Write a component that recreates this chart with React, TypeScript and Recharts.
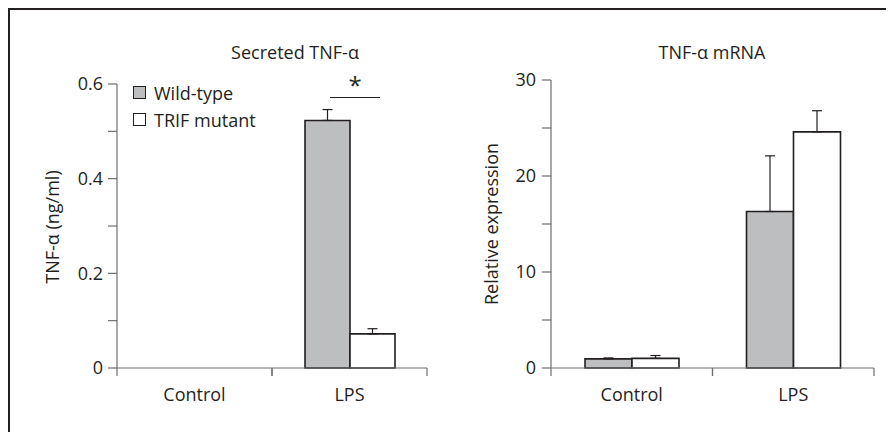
import React from "react";
import { Bar, BarChart, ErrorBar, Legend, XAxis, YAxis } from "recharts";

const categories = ["Control", "LPS"];
const seriesNames = ["Wild-type", "TRIF mutant"];

const secretedWT = [0, 0.523];
const secretedWTErr = [0, 0.023];
const secretedTRIF = [0, 0.072];
const secretedTRIFErr = [0, 0.011];
const secretedTicks = [0, 0.1, 0.2, 0.3, 0.4, 0.5, 0.6];
const secretedTickLabels = ["0", "", "0.2", "", "0.4", "", "0.6"];

const mrnaWT = [0.95, 16.3];
const mrnaWTErr = [0.1, 5.8];
const mrnaTRIF = [1.0, 24.6];
const mrnaTRIFErr = [0.3, 2.2];
const mrnaTicks = [0, 5, 10, 15, 20, 25, 30];
const mrnaTickLabels = ["0", "", "10", "", "20", "", "30"];

const secretedData = categories.map((c, i) => ({
  name: c,
  wt: secretedWT[i],
  wtErr: [0, secretedWTErr[i]],
  trif: secretedTRIF[i],
  trifErr: [0, secretedTRIFErr[i]],
}));

const mrnaData = categories.map((c, i) => ({
  name: c,
  wt: mrnaWT[i],
  wtErr: [0, mrnaWTErr[i]],
  trif: mrnaTRIF[i],
  trifErr: [0, mrnaTRIFErr[i]],
}));

const FONT = "'Open Sans', sans-serif";
const INK = "#231f20";
const AXIS = "#6d6e71";
const GREY = "#bcbec0";
const FS = 18;

// category ticks sit on the band edges, labels in the middle
function BandTick(props: any) {
  const { x, y, payload, halfBand } = props;
  const half = payload && payload.offset ? payload.offset : halfBand;
  const axisY = y - 8;
  return (
    <g>
      <line x1={x - half} x2={x - half} y1={axisY} y2={axisY + 8} stroke={AXIS} strokeWidth={1.2} />
      <line x1={x + half} x2={x + half} y1={axisY} y2={axisY + 8} stroke={AXIS} strokeWidth={1.2} />
      <text x={x} y={axisY + 33} textAnchor="middle" fill={INK} fontSize={FS} fontFamily={FONT}>
        {payload.value}
      </text>
    </g>
  );
}

function LegendBox(props: any) {
  const items = [...(props.payload || [])].sort(
    (a: any, b: any) => seriesNames.indexOf(a.value) - seriesNames.indexOf(b.value)
  );
  return (
    <div style={{ fontFamily: FONT, fontSize: FS, color: INK }}>
      {items.map((it: any) => (
        <div key={it.value} style={{ display: "flex", alignItems: "center", height: 27 }}>
          <span
            style={{
              width: 13,
              height: 13,
              boxSizing: "border-box",
              border: `1.5px solid ${INK}`,
              background: it.color,
              marginRight: 8,
            }}
          />
          <span>{it.value}</span>
        </div>
      ))}
    </div>
  );
}

const textStyle: React.CSSProperties = {
  position: "absolute",
  fontFamily: FONT,
  fontSize: FS,
  color: INK,
  whiteSpace: "nowrap",
  transform: "translate(-50%, -50%)",
};

export default function App() {
  return (
    <div style={{ position: "relative", width: 886, height: 424, fontFamily: FONT }}>
      <div
        style={{
          position: "absolute",
          left: 0,
          top: 0,
          width: 886,
          height: 424,
          boxSizing: "border-box",
          borderTop: `2px solid ${INK}`,
          borderLeft: `2px solid ${INK}`,
        }}
      />

      <div style={{ position: "absolute", left: 0, top: 0 }}>
        <BarChart
          width={440}
          height={424}
          data={secretedData}
          margin={{ top: 76, right: 21, bottom: 34, left: 0 }}
          barGap={0}
          barCategoryGap={33}
        >
          <XAxis
            dataKey="name"
            height={30}
            axisLine={{ stroke: AXIS, strokeWidth: 1.2 }}
            tickLine={false}
            tickSize={8}
            tickMargin={0}
            interval={0}
            tick={<BandTick halfBand={77.5} />}
          />
          <YAxis
            width={109}
            domain={[0, 0.6]}
            ticks={secretedTicks}
            interval={0}
            tickFormatter={(v: number, i: number) => secretedTickLabels[i]}
            tickSize={9}
            tickMargin={5}
            axisLine={{ stroke: AXIS, strokeWidth: 1.2 }}
            tickLine={{ stroke: AXIS, strokeWidth: 1.2 }}
            tick={{ fill: INK, fontSize: FS, fontFamily: FONT }}
          />
          <Legend
            verticalAlign="middle"
            align="center"
            layout="horizontal"
            wrapperStyle={{ left: 125, top: 71, width: "auto" }}
            content={<LegendBox />}
          />
          <Bar dataKey="wt" name={seriesNames[0]} fill={GREY} stroke={INK} strokeWidth={1.6} isAnimationActive={false}>
            <ErrorBar dataKey="wtErr" width={5} stroke={INK} strokeWidth={1.2} />
          </Bar>
          <Bar dataKey="trif" name={seriesNames[1]} fill="#ffffff" stroke={INK} strokeWidth={1.6} isAnimationActive={false}>
            <ErrorBar dataKey="trifErr" width={5} stroke={INK} strokeWidth={1.2} />
          </Bar>
        </BarChart>
      </div>

      <div style={{ position: "absolute", left: 440, top: 0 }}>
        <BarChart
          width={446}
          height={424}
          data={mrnaData}
          margin={{ top: 72, right: 20, bottom: 34, left: 0 }}
          barGap={0}
          barCategoryGap={34}
        >
          <XAxis
            dataKey="name"
            height={30}
            axisLine={{ stroke: AXIS, strokeWidth: 1.2 }}
            tickLine={false}
            tickSize={8}
            tickMargin={0}
            interval={0}
            tick={<BandTick halfBand={80.75} />}
          />
          <YAxis
            width={103}
            domain={[0, 30]}
            ticks={mrnaTicks}
            interval={0}
            tickFormatter={(v: number, i: number) => mrnaTickLabels[i]}
            tickSize={9}
            tickMargin={6}
            axisLine={{ stroke: AXIS, strokeWidth: 1.2 }}
            tickLine={{ stroke: AXIS, strokeWidth: 1.2 }}
            tick={{ fill: INK, fontSize: FS, fontFamily: FONT }}
          />
          <Bar dataKey="wt" name={seriesNames[0]} fill={GREY} stroke={INK} strokeWidth={1.6} isAnimationActive={false}>
            <ErrorBar dataKey="wtErr" width={5} stroke={INK} strokeWidth={1.2} />
          </Bar>
          <Bar dataKey="trif" name={seriesNames[1]} fill="#ffffff" stroke={INK} strokeWidth={1.6} isAnimationActive={false}>
            <ErrorBar dataKey="trifErr" width={5} stroke={INK} strokeWidth={1.2} />
          </Bar>
        </BarChart>
      </div>

      {/* panel titles */}
      <div style={{ ...textStyle, left: 287, top: 44 }}>Secreted TNF-α</div>
      <div style={{ ...textStyle, left: 704, top: 44 }}>TNF-α mRNA</div>

      {/* y axis titles */}
      <div style={{ ...textStyle, left: 44, top: 219, transform: "translate(-50%, -50%) rotate(-90deg)" }}>
        TNF-α (ng/ml)
      </div>
      <div style={{ ...textStyle, left: 483, top: 216, transform: "translate(-50%, -50%) rotate(-90deg)" }}>
        Relative expression
      </div>

      {/* significance mark */}
      <div style={{ position: "absolute", left: 322, top: 89, width: 50, height: 0, borderTop: `1.2px solid ${INK}` }} />
      <div style={{ ...textStyle, left: 347, top: 76, fontSize: 24 }}>*</div>
    </div>
  );
}
